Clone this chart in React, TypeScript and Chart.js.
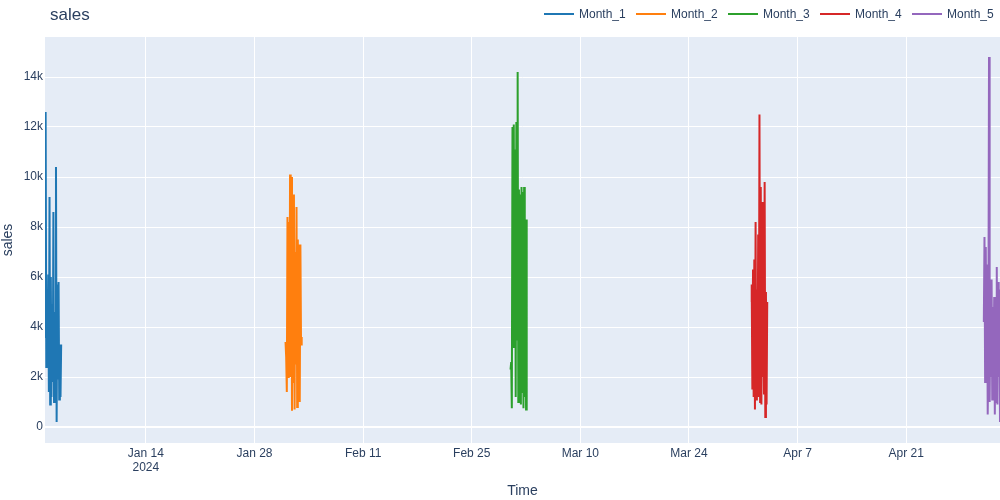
import React, {useEffect, useRef} from 'react'
import {Chart, registerables} from 'chart.js'

Chart.register(...registerables)

// days counted from Jan 1 2024, one reading every 2 hours
const seriesNames = ['Month_1', 'Month_2', 'Month_3', 'Month_4', 'Month_5']
const seriesColors = ['#1f77b4', '#ff7f0e', '#2ca02c', '#d62728', '#9467bd']
const monthStartDays = [0, 31, 60, 91, 121]
const stepHours = 2

const month1Sales = [
  3600, 12600, 2400, 5100, 3000, 6100, 1400, 9200, 900, 6000, 1200, 4900, 1800,
  8600, 1000, 4600, 2200, 10400, 200, 5700, 1900, 5800, 1100, 3300, 1200, 3300,
]
const month2Sales = [
  3400, 2800, 1400, 8400, 2000, 8200, 2100, 10100, 2000, 10000, 650, 6500, 1800,
  9300, 700, 7000, 2500, 8800, 800, 7500, 3500, 7300, 1000, 7300, 3300, 3600,
]
const month3Sales = [
  2300, 2600, 750, 12000, 3200, 12100, 3400, 11100, 1200, 12200, 3500, 14200, 1000,
  9500, 1100, 9300, 900, 9600, 1400, 9400, 750, 9600, 1200, 8300, 700, 8300,
]
const month4Sales = [
  5000, 5700, 1500, 6300, 1200, 6700, 700, 8200, 1100, 5500, 1600, 7700, 1200,
  12500, 1000, 9600, 900, 9000, 2000, 4000, 1300, 9800, 400, 5400, 900, 5000,
]
const month5Sales = [
  4200, 7600, 1800, 7200, 2600, 6500, 500, 3000, 14800, 1000, 4500, 2000, 5900,
  1100, 4800, 2200, 5200, 500, 4600, 1000, 6400, 900, 5800, 2000, 5500, 200,
]
const seriesValues = [month1Sales, month2Sales, month3Sales, month4Sales, month5Sales]

const xTickDays = [13, 27, 41, 55, 69, 83, 97, 111]
const xTickLabels = [
  ['Jan 14', '2024'],
  'Jan 28',
  'Feb 11',
  'Feb 25',
  'Mar 10',
  'Mar 24',
  'Apr 7',
  'Apr 21',
]
const yTickValues = [0, 2000, 4000, 6000, 8000, 10000, 12000, 14000]

const FONT = '"Liberation Sans", Arial, sans-serif'
const TEXT = '#2a3f5f'

const plotBackground = {
  id: 'plotBackground',
  beforeDraw(chart: any) {
    const {ctx, chartArea} = chart
    ctx.save()
    ctx.fillStyle = '#e5ecf6'
    ctx.fillRect(chartArea.left, chartArea.top, chartArea.right - chartArea.left, chartArea.bottom - chartArea.top)
    ctx.restore()
  },
}

const header = {
  id: 'header',
  afterDraw(chart: any) {
    const {ctx} = chart
    ctx.save()
    ctx.fillStyle = TEXT
    ctx.font = `17px ${FONT}`
    ctx.textBaseline = 'alphabetic'
    ctx.textAlign = 'left'
    ctx.fillText('sales', 50, 20)

    ctx.font = `12px ${FONT}`
    ctx.textBaseline = 'middle'
    seriesNames.forEach((name, i) => {
      const x = 544 + i * 92
      ctx.strokeStyle = seriesColors[i]
      ctx.lineWidth = 2
      ctx.beginPath()
      ctx.moveTo(x, 14)
      ctx.lineTo(x + 30, 14)
      ctx.stroke()
      ctx.fillStyle = TEXT
      ctx.fillText(name, x + 35, 15)
    })
    ctx.restore()
  },
}

const SalesChart: React.FC = () => {
  const chartRef = useRef<HTMLCanvasElement | null>(null)

  useEffect(() => {
    if (!chartRef.current) {
      return
    }

    const lastSeries = seriesValues[seriesValues.length - 1]
    const xMax = monthStartDays[monthStartDays.length - 1] + ((lastSeries.length - 1) * stepHours) / 24

    const chart = new Chart(chartRef.current, {
      type: 'line',
      data: {
        datasets: seriesNames.map((name, i) => ({
          label: name,
          data: seriesValues[i].map((v, k) => ({x: monthStartDays[i] + (k * stepHours) / 24, y: v})),
          borderColor: seriesColors[i],
          backgroundColor: seriesColors[i],
          borderWidth: 2,
          pointRadius: 0,
          tension: 0,
        })),
      },
      options: {
        animation: false,
        responsive: false,
        layout: {padding: {top: 37, left: 0, right: 0, bottom: 0}},
        plugins: {
          legend: {display: false},
          title: {display: false},
          tooltip: {enabled: false},
        },
        scales: {
          x: {
            type: 'linear',
            min: 0,
            max: xMax,
            afterFit: (scale: any) => {
              scale.height = 57
            },
            afterBuildTicks: (scale: any) => {
              scale.ticks = xTickDays.map((v) => ({value: v}))
            },
            border: {display: false},
            grid: {color: '#ffffff', lineWidth: 1, drawTicks: false},
            ticks: {
              autoSkip: false,
              maxRotation: 0,
              padding: 3,
              color: TEXT,
              font: {family: FONT, size: 12},
              callback: (value: any) => {
                const i = xTickDays.indexOf(Number(value))
                return i >= 0 ? xTickLabels[i] : ''
              },
            },
            title: {
              display: true,
              text: 'Time',
              color: TEXT,
              font: {family: FONT, size: 14},
              padding: 0,
            },
          },
          y: {
            type: 'linear',
            min: -640,
            max: 15600,
            afterFit: (scale: any) => {
              scale.width = 45
            },
            afterBuildTicks: (scale: any) => {
              scale.ticks = yTickValues.map((v) => ({value: v}))
            },
            border: {display: false},
            grid: {
              color: '#ffffff',
              lineWidth: (ctx: any) => (ctx.tick && ctx.tick.value === 0 ? 2 : 1),
              drawTicks: false,
            },
            ticks: {
              padding: 2,
              color: TEXT,
              font: {family: FONT, size: 12},
              callback: (value: any) => (Number(value) === 0 ? '0' : `${Number(value) / 1000}k`),
            },
            title: {
              display: true,
              text: 'sales',
              color: TEXT,
              font: {family: FONT, size: 14},
              padding: 0,
            },
          },
        },
      },
      plugins: [plotBackground, header],
    })

    return () => {
      chart.destroy()
    }
  }, [])

  return (
    <div style={{position: 'absolute', left: 0, top: 0, width: 1000, height: 500, background: '#ffffff'}}>
      <canvas ref={chartRef} width={1000} height={500}></canvas>
    </div>
  )
}

export default function App() {
  return <SalesChart />
}
